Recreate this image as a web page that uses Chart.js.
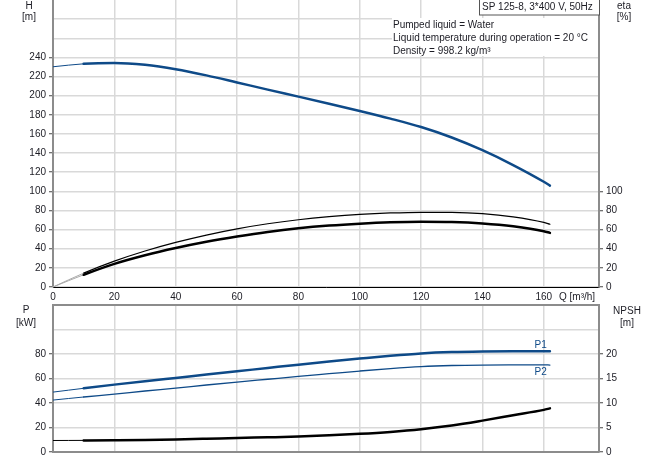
<!DOCTYPE html>
<html>
<head>
<meta charset="utf-8">
<script src="https://cdn.jsdelivr.net/npm/chart.js@4.4.0/dist/chart.umd.min.js"></script>
<style>
body{margin:0;background:#fff;}
#wrap{position:relative;width:656px;height:460px;overflow:hidden;}
#top{position:absolute;left:0;top:0;}
#bot{position:absolute;left:0;top:300px;}
</style>
</head>
<body>
<div id="wrap">
<canvas id="top" width="656" height="305"></canvas>
<canvas id="bot" width="656" height="160"></canvas>
</div>
<script>
// flow rate Q [m3/h]
var flowQ = [0, 10, 20, 30, 40, 50, 60, 70, 80, 90, 100, 110, 120, 130, 140, 150, 160, 162];
// head H [m]
var headH = [230.2, 233.3, 234.2, 232.2, 227.6, 221.2, 213.8, 206.3, 199, 191.6, 184, 176, 167.2, 156.3, 143, 127.5, 110, 106];
// efficiencies [%]
var etaPump = [0, 14.5, 27, 37.6, 46.6, 54.3, 60.8, 66.1, 70.3, 73.5, 75.9, 77.4, 78.1, 78, 76.7, 73.3, 67.5, 65.6];
var etaTotal = [0, 12.8, 24.2, 33.2, 40.8, 47.3, 52.8, 57.6, 61.4, 64.2, 66.2, 67.6, 68.2, 67.9, 66.4, 63.4, 58.3, 56.6];
// power [kW]
var powerP1 = [48.9, 52, 55, 57.8, 60.5, 63.2, 65.9, 68.6, 71.3, 73.9, 76.3, 78.6, 80.5, 81.6, 82.1, 82.3, 82.3, 82.3];
var powerP2 = [42.4, 44.9, 47.3, 49.8, 52.2, 54.7, 57.1, 59.4, 61.7, 63.9, 66.1, 68.1, 69.7, 70.6, 71, 71.1, 71.1, 71];
// NPSH [m]
var npsh = [2.35, 2.37, 2.4, 2.45, 2.55, 2.7, 2.87, 3.0, 3.15, 3.4, 3.7, 4.1, 4.65, 5.4, 6.4, 7.5, 8.6, 8.9];

var xTicksMax = 160;
var hLabelMax = 240, etaLabelMax = 100;
var pLabelMax = 80, npshLabelMax = 20;

var BLUE = '#0e4a88';
var GRID = '#d9d9d9';
var AXIS = '#8c8c8c';
var TXT = '#1c1c24';
var FONT = {family: 'Liberation Sans, Arial, sans-serif', size: 10};

function pts(ys) {
    return flowQ.map(function (q, i) { return {x: q, y: ys[i]}; });
}

function curve(label, ys, color, width, axis, startColor) {
    return {
        label: label,
        data: pts(ys),
        yAxisID: axis,
        borderColor: color,
        borderWidth: width,
        pointRadius: 0,
        fill: false,
        cubicInterpolationMode: 'monotone',
        segment: {
            borderWidth: function (ctx) { return ctx.p0.parsed.x < 10 ? 1 : width; },
            borderColor: function (ctx) { return ctx.p0.parsed.x < 10 ? (startColor || color) : color; }
        }
    };
}

function noPad(s) { s.paddingTop = 0; s.paddingBottom = 0; s.paddingLeft = 0; s.paddingRight = 0; }

function textAt(ctx, str, x, y, align, color) {
    ctx.fillStyle = color || TXT;
    ctx.textAlign = align || 'left';
    ctx.textBaseline = 'middle';
    ctx.fillText(str, x, y);
}

Chart.defaults.font.family = FONT.family;
Chart.defaults.font.size = 10;
Chart.defaults.color = TXT;

var topLabels = {
    id: 'topLabels',
    afterDraw: function (chart) {
        var ctx = chart.ctx;
        ctx.save();
        ctx.font = '10px ' + FONT.family;
        textAt(ctx, 'H', 29, 6, 'center');
        textAt(ctx, '[m]', 29, 17, 'center');
        textAt(ctx, 'eta', 624, 6, 'center');
        textAt(ctx, '[%]', 624, 17, 'center');
        textAt(ctx, 'Q [m\u00b3/h]', 559, 297, 'left');
        // title box
        ctx.fillStyle = '#fff';
        ctx.fillRect(479, 0, 120, 15);
        ctx.strokeStyle = '#555';
        ctx.lineWidth = 1;
        ctx.strokeRect(479.5, -0.5, 120, 15.5);
        textAt(ctx, 'SP 125-8, 3*400 V, 50Hz', 482, 7.5, 'left');
        // info box
        ctx.fillStyle = '#fff';
        ctx.fillRect(392, 18, 206, 38);
        textAt(ctx, 'Pumped liquid = Water', 393, 25.5, 'left');
        textAt(ctx, 'Liquid temperature during operation = 20 \u00b0C', 393, 38.5, 'left');
        textAt(ctx, 'Density = 998.2 kg/m\u00b3', 393, 51.5, 'left');
        ctx.restore();
    }
};

var botLabels = {
    id: 'botLabels',
    afterDraw: function (chart) {
        var ctx = chart.ctx;
        var sx = chart.scales.x, sy = chart.scales.y;
        ctx.save();
        ctx.font = '10px ' + FONT.family;
        textAt(ctx, 'P', 26, 10, 'center');
        textAt(ctx, '[kW]', 26, 23, 'center');
        textAt(ctx, 'NPSH', 627, 11, 'center');
        textAt(ctx, '[m]', 627, 23, 'center');
        var lx = sx.getPixelForValue(159);
        textAt(ctx, 'P1', lx, sy.getPixelForValue(powerP1[powerP1.length - 1]) - 6, 'center', BLUE);
        textAt(ctx, 'P2', lx, sy.getPixelForValue(powerP2[powerP2.length - 1]) + 7.5, 'center', BLUE);
        ctx.restore();
    }
};

function xScale(showLabels, h, borderColor, borderWidth) {
    return {
        type: 'linear', min: 0, max: 178,
        ticks: {
            display: showLabels, stepSize: 20, includeBounds: false, padding: 4, color: TXT, font: FONT,
            maxRotation: 0,
            callback: function (v) { return v <= xTicksMax ? v : ''; }
        },
        grid: {color: GRID, lineWidth: 1.5, drawTicks: false},
        border: {color: borderColor, width: borderWidth},
        afterFit: function (s) { s.height = h; noPad(s); }
    };
}

function yScale(pos, max, step, labelMax, w, onArea, topColor) {
    return {
        type: 'linear', position: pos, min: 0, max: max,
        ticks: {
            stepSize: step, padding: 3, color: TXT, font: FONT,
            callback: function (v) { return v <= labelMax ? v : ''; }
        },
        grid: {
            drawOnChartArea: onArea,
            color: function (c) { return c.tick.value === max ? topColor : GRID; },
            lineWidth: function (c) { return c.tick.value === max ? 2 : 1.5; },
            tickLength: 4,
            tickColor: function (c) { return c.tick.value <= labelMax ? '#444' : 'rgba(0,0,0,0)'; },
            tickWidth: 1
        },
        border: {color: AXIS, width: 2},
        afterFit: function (s) { s.width = w; noPad(s); }
    };
}

var common = {
    responsive: false,
    animation: false,
    devicePixelRatio: 1,
    plugins: {legend: {display: false}, tooltip: {enabled: false}},
    elements: {line: {borderCapStyle: 'round'}}
};

new Chart(document.getElementById('top').getContext('2d'), {
    type: 'line',
    data: {
        datasets: [
            curve('H', headH, BLUE, 2.5, 'y', BLUE),
            curve('eta pump', etaPump, '#000', 1.2, 'y2', '#aaa'),
            curve('eta total', etaTotal, '#000', 2.5, 'y2', '#aaa')
        ]
    },
    options: Object.assign({}, common, {
        layout: {autoPadding: false, padding: 0},
        scales: {
            x: xScale(true, 18, '#000', 1),
            y: yScale('left', 300, 20, hLabelMax, 53, true, 'rgba(0,0,0,0)'),
            y2: yScale('right', 300, 20, etaLabelMax, 57, false, 'rgba(0,0,0,0)')
        }
    }),
    plugins: [topLabels]
});

new Chart(document.getElementById('bot').getContext('2d'), {
    type: 'line',
    data: {
        datasets: [
            curve('P1', powerP1, BLUE, 2.5, 'y', BLUE),
            curve('P2', powerP2, BLUE, 1.3, 'y', BLUE),
            curve('NPSH', npsh, '#000', 2.5, 'y2', '#000')
        ]
    },
    options: Object.assign({}, common, {
        layout: {autoPadding: false, padding: {top: 5, left: 0, right: 0, bottom: 0}},
        scales: {
            x: xScale(false, 8, AXIS, 2),
            y: yScale('left', 120, 20, pLabelMax, 53, true, AXIS),
            y2: yScale('right', 30, 5, npshLabelMax, 57, false, AXIS)
        }
    }),
    plugins: [botLabels]
});
</script>
</body>
</html>
